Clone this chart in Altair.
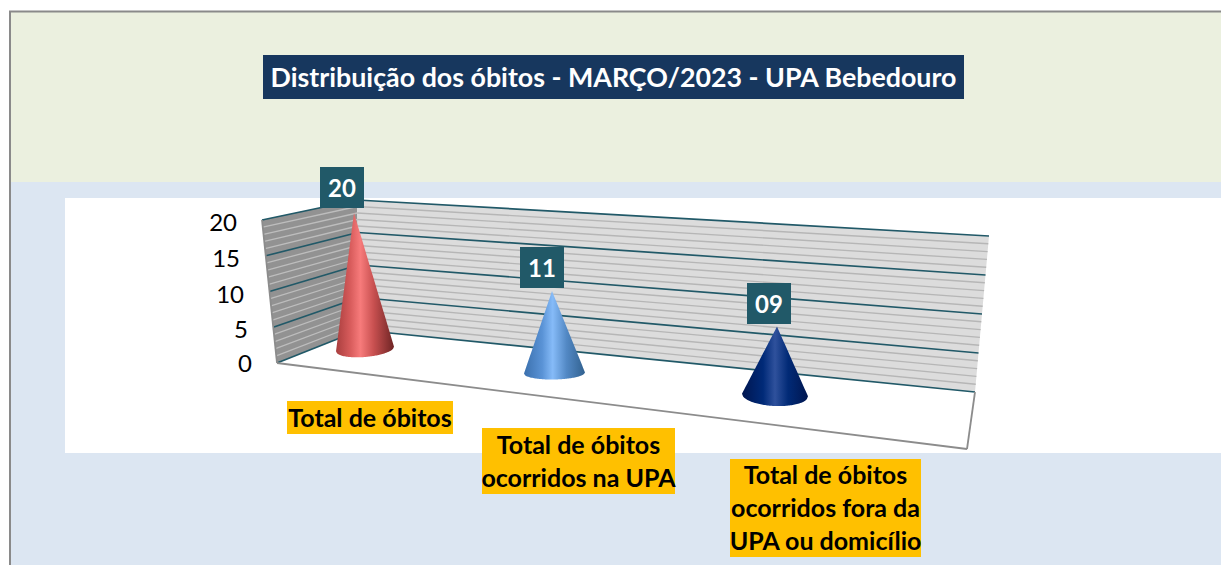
import math
import altair as alt
import pandas as pd

# ---- chart values ----
categories = ["Total de óbitos", "Total de óbitos ocorridos na UPA", "Total de óbitos ocorridos fora da UPA ou domicílio"]
values = [20, 11, 9]
value_labels = ["20", "11", "09"]
y_ticks = [0, 5, 10, 15, 20]
category_lines = [["Total de óbitos"],
                  ["Total de óbitos", "ocorridos na UPA"],
                  ["Total de óbitos", "ocorridos fora da", "UPA ou domicílio"]]
title_text = "Distribuição dos óbitos - MARÇO/2023 - UPA Bebedouro"

# ---- layout (picture coordinates; scales map them onto the canvas) ----
W, H = 1221, 565
FONT = "Lato"
X = alt.Scale(domain=[8, W], range=[0, W - 8])
Y = alt.Scale(domain=[8, H], range=[0, H - 8])
TEAL = "#215968"

wall_left_outer = {"top": (262, 220), "bottom": (277, 363)}
wall_corner = {"top": (357, 200), "bottom": (360, 330)}
wall_right = {"top": (989, 236), "bottom": (975, 392)}
floor_front_right = (967, 449)

base_x = [365, 554.5, 775]
base_y = [349, 373, 395]
base_a = [29, 30.5, 33]
base_b = [8, 6.5, 11]
base_tilt = [-0.08, -0.02, 0.04]
apex_x = [354, 552, 777]
unit_px = [6.8, 7.45, 7.6]
cone_stops = [
    [("#a93e3e", 0), ("#d85c5c", 0.25), ("#f77b7b", 0.42), ("#c85050", 0.65), ("#6e2424", 1)],
    [("#3b70ad", 0), ("#5a93d6", 0.3), ("#86bbf8", 0.47), ("#5288c4", 0.7), ("#31618f", 1)],
    [("#001650", 0), ("#002a78", 0.32), ("#2f519c", 0.5), ("#012a76", 0.7), ("#001650", 1)],
]
label_box = [(320, 364, 167, 208), (520, 564, 247, 288), (747, 791, 283, 324)]
cat_box = [(287, 453, 401, 434), (482, 675, 428, 494), (730, 921, 459, 557)]
tick_y = [365, 331, 296, 260, 224]
tick_x = [252, 248, 244, 240, 237]


def lerp(a, b, t):
    return (a[0] + (b[0] - a[0]) * t, a[1] + (b[1] - a[1]) * t)


def slices(poly):
    """Convex polygon -> vertical slices usable by an area mark."""
    xs = sorted({p[0] for p in poly})
    rows = []
    n = len(poly)
    for x in xs:
        ys = []
        for i in range(n):
            a, b = poly[i], poly[(i + 1) % n]
            lo, hi = min(a[0], b[0]), max(a[0], b[0])
            if lo <= x <= hi:
                if a[0] == b[0]:
                    ys += [a[1], b[1]]
                else:
                    ys.append(a[1] + (b[1] - a[1]) * (x - a[0]) / (b[0] - a[0]))
        rows.append({"px": x, "top": min(ys), "bot": max(ys)})
    return pd.DataFrame(rows)


def rect(df, color):
    return alt.Chart(pd.DataFrame(df)).mark_rect(color=color).encode(
        x=alt.X("x:Q", scale=X, axis=None), x2="x2:Q",
        y=alt.Y("y:Q", scale=Y, axis=None), y2="y2:Q")


def poly(points, color):
    return alt.Chart(slices(points)).mark_area(fill=color, interpolate="linear").encode(
        x=alt.X("px:Q", scale=X, axis=None),
        y=alt.Y("top:Q", scale=Y, axis=None, stack=None), y2=alt.Y2("bot:Q"))


def rules(rows, color, width):
    return alt.Chart(pd.DataFrame(rows)).mark_rule(color=color, strokeWidth=width).encode(
        x=alt.X("x:Q", scale=X, axis=None), x2="x2:Q",
        y=alt.Y("y:Q", scale=Y, axis=None), y2="y2:Q")


def seg(a, b):
    return {"x": a[0], "y": a[1], "x2": b[0], "y2": b[1]}


layers = []
# panel backgrounds
layers.append(rect([{"x": 11, "x2": W, "y": 12, "y2": 182}], "#ebf0df"))
layers.append(rect([{"x": 11, "x2": W, "y": 182, "y2": H}], "#dce6f2"))
layers.append(rect([{"x": 65, "x2": W, "y": 198, "y2": 453}], "#ffffff"))
layers.append(rules([seg((10, 11), (10, H)), seg((9, 11.5), (W, 11.5))], "#8a8a8a", 2))

# walls
layers.append(poly([wall_left_outer["top"], wall_corner["top"], wall_corner["bottom"], wall_left_outer["bottom"]], "#929292"))
layers.append(poly([wall_corner["top"], wall_right["top"], wall_right["bottom"], wall_corner["bottom"]], "#dcdcdc"))

# gridlines
minor_back, minor_left, major = [], [], []
top_v = y_ticks[-1]
for v in range(0, top_v + 1):
    t = v / top_v
    lo = lerp(wall_left_outer["bottom"], wall_left_outer["top"], t)
    mid = lerp(wall_corner["bottom"], wall_corner["top"], t)
    hi = lerp(wall_right["bottom"], wall_right["top"], t)
    if v in y_ticks:
        major += [seg(lo, mid), seg(mid, hi)]
    else:
        minor_left.append(seg(lo, mid))
        minor_back.append(seg(mid, hi))
layers.append(rules(minor_left, "#bdbdbd", 1.3))
layers.append(rules(minor_back, "#b6b6b6", 1.4))
layers.append(rules(major, TEAL, 1.7))

# floor outline
layers.append(rules([seg(wall_left_outer["bottom"], floor_front_right),
                     seg(floor_front_right, wall_right["bottom"]),
                     seg(wall_left_outer["top"], wall_left_outer["bottom"])], "#8c8c8c", 1.8))

# cones
for i, v in enumerate(values):
    cx, cy, a, b, tilt = base_x[i], base_y[i], base_a[i], base_b[i], base_tilt[i]
    apex = (apex_x[i], cy - v * unit_px[i])
    left = (cx - a, cy - tilt * a)
    right = (cx + a, cy + tilt * a)
    rows = []
    us = [k / 30 for k in range(-30, 31)]
    xs = sorted([cx + a * u for u in us] + [apex[0]])
    for x in xs:
        u = max(-1, min(1, (x - cx) / a))
        if x <= apex[0]:
            top = left[1] + (apex[1] - left[1]) * (x - left[0]) / (apex[0] - left[0])
        else:
            top = right[1] + (apex[1] - right[1]) * (x - right[0]) / (apex[0] - right[0])
        bottom = cy + tilt * (x - cx) + b * math.sqrt(max(0, 1 - u * u))
        rows.append({"px": x, "top": top, "bot": bottom})
    grad = alt.Gradient(gradient="linear", x1=0, x2=1, y1=0, y2=0,
                        stops=[alt.GradientStop(color=c, offset=o) for c, o in cone_stops[i]])
    layers.append(alt.Chart(pd.DataFrame(rows)).mark_area(fill=grad, interpolate="linear").encode(
        x=alt.X("px:Q", scale=X, axis=None),
        y=alt.Y("top:Q", scale=Y, axis=None, stack=None), y2=alt.Y2("bot:Q")))


def text(rows, color, size, weight="bold", align="center"):
    return alt.Chart(pd.DataFrame(rows)).mark_text(
        color=color, fontSize=size, fontWeight=weight, font=FONT, align=align, baseline="middle"
    ).encode(x=alt.X("x:Q", scale=X, axis=None), y=alt.Y("y:Q", scale=Y, axis=None), text="t:N")


# value labels
layers.append(rect([{"x": b[0], "x2": b[1], "y": b[2], "y2": b[3]} for b in label_box], TEAL))
layers.append(text([{"x": (b[0] + b[1]) / 2, "y": (b[2] + b[3]) / 2 + 2, "t": s}
                    for b, s in zip(label_box, value_labels)], "#ffffff", 24))

# value axis labels
layers.append(text([{"x": x, "y": y, "t": str(v)} for v, x, y in zip(y_ticks, tick_x, tick_y)],
                   "#000000", 24, "normal", "right"))

# category labels
layers.append(rect([{"x": b[0], "x2": b[1], "y": b[2], "y2": b[3]} for b in cat_box], "#ffc000"))
rows = []
for b, lines in zip(cat_box, category_lines):
    step = (b[3] - b[2]) / len(lines)
    for j, line in enumerate(lines):
        rows.append({"x": (b[0] + b[1]) / 2, "y": b[2] + step * (j + 0.5) + 1, "t": line})
layers.append(text(rows, "#000000", 25))

# title
layers.append(rect([{"x": 263, "x2": 964, "y": 55, "y2": 99}], "#17375e"))
layers.append(text([{"x": 613.5, "y": 79, "t": title_text}], "#ffffff", 26.8))

chart = alt.layer(*layers).properties(
    width=W - 8, height=H - 8,
    autosize=alt.AutoSizeParams(type="none"), padding=0
).configure_view(stroke=None)

chart.save("out.html", embed_options={"renderer": "svg", "actions": False})
